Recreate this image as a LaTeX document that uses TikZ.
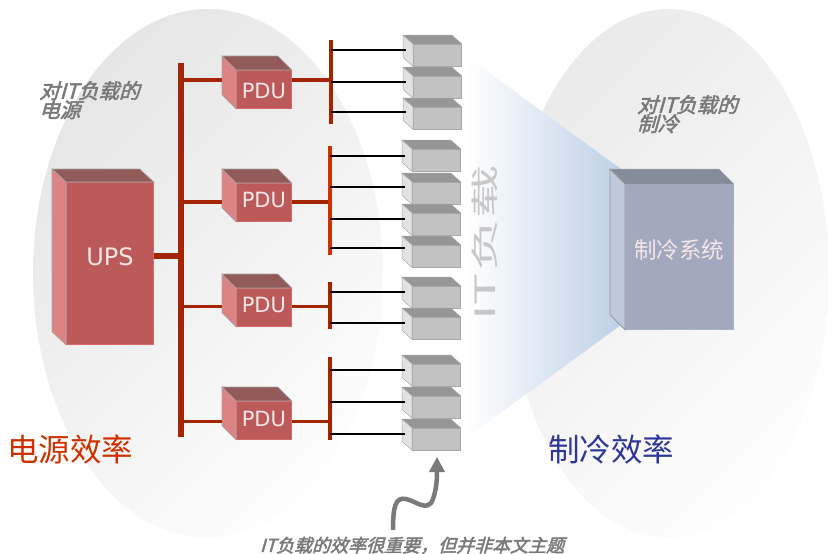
\documentclass[tikz,border=0pt]{standalone}
\usepackage{fontspec}
\setmainfont{Open Sans}
\newfontfamily\boxfont{DejaVu Sans}
\newfontfamily\cjk{Noto Sans CJK SC}
\newfontfamily\cjkslant[FakeSlant=0.28,FakeBold=2.5]{Noto Sans CJK SC}
\usetikzlibrary{arrows.meta,positioning}
\definecolor{busred}{HTML}{A32600}
\definecolor{barred}{HTML}{CC3300}
\definecolor{upsedge}{HTML}{D66A6A}
\definecolor{upsfill}{HTML}{BC5A5A}
\definecolor{upsroof}{HTML}{935A5A}
\definecolor{upswall}{HTML}{DC8385}
\definecolor{srvedge}{HTML}{A8A8A8}
\definecolor{srvfill}{HTML}{C2C2C2}
\definecolor{srvroof}{HTML}{969696}
\definecolor{srvwall}{HTML}{E2E2E2}
\definecolor{cooledge}{HTML}{A9B1C8}
\definecolor{coolfill}{HTML}{A2A8BD}
\definecolor{coolroof}{HTML}{858C99}
\definecolor{coolwall}{HTML}{BECADC}
\definecolor{boxink}{HTML}{F5E6E6}
\definecolor{noteink}{HTML}{7A7A7A}
\definecolor{psuink}{HTML}{D03000}
\definecolor{coolink}{HTML}{2F3699}
\definecolor{loadink}{HTML}{C8C8C8}
\definecolor{leftdark}{HTML}{E6E6E6}
\definecolor{rightdark}{HTML}{EBEBEB}
\definecolor{ovallight}{HTML}{FDFDFD}
\definecolor{coneblue}{HTML}{BCCFE5}
\tikzset{
  upsfront/.style={draw=upsedge,fill=upsfill,inner sep=0pt,line width=0.8pt},
  upstop/.style={draw=gray!70,fill=upsroof,line width=0.6pt},
  upsside/.style={draw=gray!70,fill=upswall,line width=0.6pt},
  srvfront/.style={draw=srvedge,fill=srvfill,inner sep=0pt,line width=0.8pt},
  srvtop/.style={draw=srvedge,fill=srvroof,line width=0.5pt},
  srvside/.style={draw=srvedge,fill=srvwall,line width=0.5pt},
  coolfront/.style={draw=cooledge,fill=coolfill,inner sep=0pt,line width=0.8pt},
  cooltop/.style={draw=gray!70,fill=coolroof,line width=0.5pt},
  coolside/.style={draw=gray!80,fill=coolwall,line width=0.8pt},
  wire/.style={black,line width=1.3pt},
  feed/.style={busred,line width=3.3pt},
  barline/.style={line width=3.8pt},
  boxtext/.style={inner sep=0pt,text=boxink,font=\fontsize{21}{21}\selectfont\boxfont},
  note/.style={inner sep=0pt,align=left,text=noteink,font=\fontsize{20.5}{19}\selectfont\cjkslant},
  bigtext/.style={inner sep=0pt,anchor=west,font=\fontsize{31.5}{31.5}\selectfont\cjk},
}
% style prefix, name, front x, front y, w, h, depth x, depth y
\newcommand{\cube}[8]{
  \node[#1front,anchor=north west,minimum width=#5pt,minimum height=#6pt] (#2) at (#3,#4) {};
  \draw[#1top] (#2.north west) -- (#2.north east) -- ++(-#7,-#8) -- ([shift={(-#7,-#8)}]#2.north west) -- cycle;
  \draw[#1side] (#2.north west) -- (#2.south west) -- ++(-#7,-#8) -- ([shift={(-#7,-#8)}]#2.north west) -- cycle;
}
\begin{document}
\begin{tikzpicture}[x=1pt,y=-1pt]
  \useasboundingbox (0,0) rectangle (828,554);

  % background
  \shade[left color=leftdark,right color=ovallight,shading angle=45] (208,273.5) ellipse [x radius=175,y radius=264.5];
  \shade[left color=rightdark,right color=ovallight,shading angle=45] (669,273.5) ellipse [x radius=160,y radius=264.5];
  \shade[left color=white,right color=coneblue] (466,56) -- (625,172) -- (625,322) -- (466,438) -- cycle;

  % boxes
  \cube{ups}{ups}{66}{182}{87}{162}{14}{13}
  \foreach \nm/\y in {pdu1/70,pdu2/183,pdu3/288,pdu4/401}{
    \cube{ups}{\nm}{236}{\y}{55}{38}{14}{14}
  }
  \foreach \nm/\x/\y/\wy in {s11/413/44/50,s12/413/76/82,s13/413/107/112,
      s21/412/149/156,s22/412/182/187,s23/412/213/219,s24/412/245/248,
      s31/412/286/292,s32/412/317/323,
      s41/412/364/370,s42/412/396/402,s43/412/428/434}{
    \cube{srv}{\nm}{\x}{\y}{48}{21.5}{10}{9}
    \coordinate (\nm in) at (\x-7,\wy);
  }
  \cube{cool}{cool}{625}{184}{108}{145}{15}{15}

  % bus
  \coordinate (bustop) at (181,63);
  \coordinate (busend) at (181,437);
  \coordinate (bar1t) at (331,40);
  \coordinate (bar1b) at (331,124);
  \coordinate (bar2t) at (330,146);
  \coordinate (bar2b) at (330,255);
  \coordinate (bar3t) at (330,282);
  \coordinate (bar3b) at (330,329);
  \coordinate (bar4t) at (330,357);
  \coordinate (bar4b) at (330,440);

  \draw[busred,line width=6.5pt] (bustop) -- (busend);
  \draw[busred,line width=6pt] (bustop |- 0,256) -- (ups.east |- 0,256);
  \foreach \nm/\brn/\y in {pdu1/bar1/80,pdu2/bar2/202,pdu3/bar3/306.5,pdu4/bar4/421.5}{
    \draw[feed] (bustop |- 0,\y) -- ([xshift=-14pt]\nm.west |- 0,\y);
    \draw[feed] (\nm.east |- 0,\y) -- (\brn t |- 0,\y);
  }
  \draw[busred,barline] (bar1t) -- (bar1b);
  \draw[barred,barline] (bar2t) -- (bar2b);
  \draw[busred,barline] (bar3t) -- (bar3b);
  \draw[busred,barline] (bar4t) -- (bar4b);

  \foreach \brn/\nm in {bar1/s11,bar1/s12,bar1/s13,bar2/s21,bar2/s22,bar2/s23,bar2/s24,
      bar3/s31,bar3/s32,bar4/s41,bar4/s42,bar4/s43}{
    \draw[wire] (\brn t |- \nm in) -- (\nm in);
  }

  % labels
  \node[boxtext,font=\fontsize{24}{24}\selectfont\boxfont] (upslabel) at ([yshift=7pt]ups.center) {UPS};
  \foreach \nm/\dy in {pdu1/-2,pdu2/2,pdu3/2,pdu4/1}{
    \node[boxtext] (\nm label) at ([yshift=\dy pt]\nm.center) {PDU};
  }
  \node[boxtext,font=\fontsize{22.5}{22.5}\selectfont\cjk] (coollabel) at ([yshift=7pt]cool.center) {制冷系统};
  \node[note,anchor=north west] (psunote) at (39,81) {对IT负载的\\电源};
  \node[note,anchor=north west] (coolnote) at (637,95) {对IT负载的\\制冷};
  \node[bigtext,text=psuink] (psueff) at (7,449) {电源效率};
  \node[bigtext,text=coolink] (cooleff) at (548,449) {制冷效率};
  \node[inner sep=0pt,rotate=90,text=loadink,font=\fontsize{28}{28}\selectfont\cjk] (itload) at (485,243) {\scalebox{1.9}[1]{\spaceskip=1pt IT 负载}};
  \node[note,anchor=base,font=\fontsize{18}{18}\selectfont\cjkslant] (itnote) at (412,552) {IT负载的效率很重要，但并非本文主题};

  % arrow
  \coordinate (tailpt) at (393,530);
  \coordinate (headpt) at (437,457);
  \draw[noteink,line width=4.5pt,-{Triangle[length=15pt,width=15pt]}] (tailpt) .. controls (393,505) and (396,497) .. (406,499)
    .. controls (416,501) and (428,513) .. (433,499) .. controls (436,490) and (437,482) .. (headpt);
\end{tikzpicture}
\end{document}
